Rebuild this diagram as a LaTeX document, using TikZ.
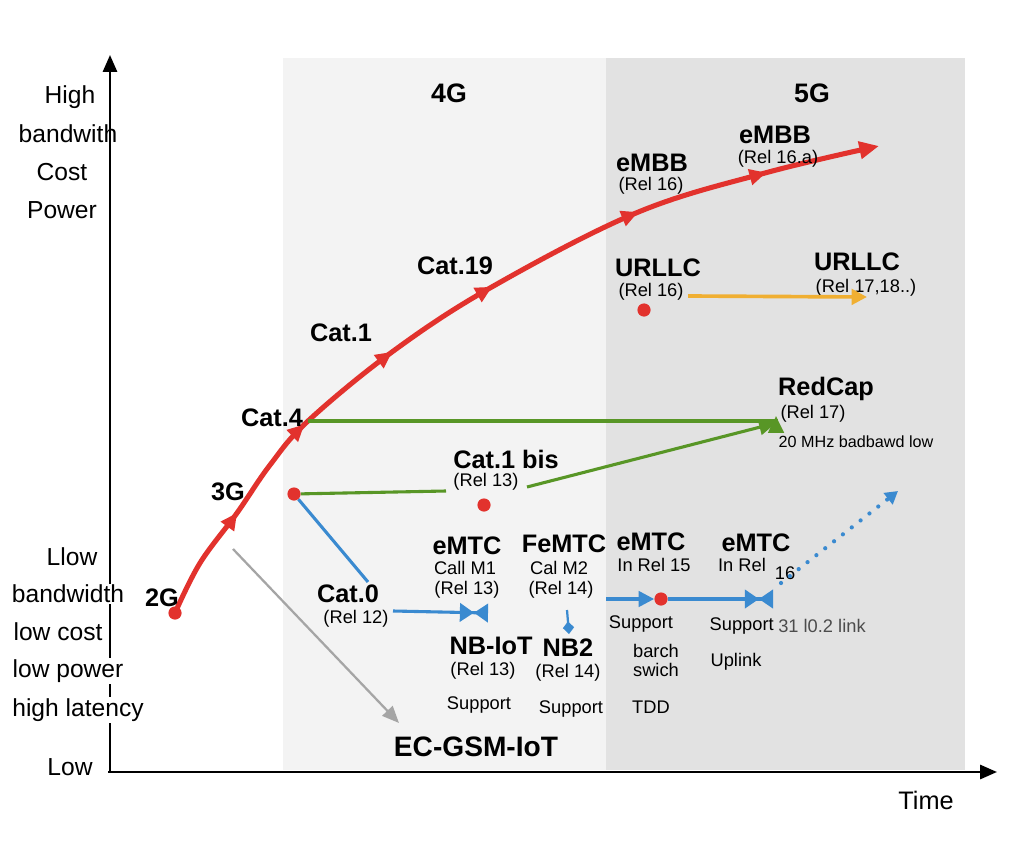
\documentclass[tikz,border=0pt]{standalone}
\usepackage{fontspec}
\setmainfont{Liberation Sans}
\usetikzlibrary{arrows.meta,decorations.markings}
\definecolor{redc}{RGB}{226,50,45}
\definecolor{greenc}{RGB}{88,150,38}
\definecolor{bluec}{RGB}{58,138,208}
\definecolor{orangec}{RGB}{240,175,50}
\definecolor{grayc}{RGB}{165,165,165}
\definecolor{panelA}{RGB}{243,243,243}
\definecolor{panelB}{RGB}{226,226,226}
\begin{document}
\begin{tikzpicture}[x=0.025cm,y=-0.025cm,
  big/.style={font=\fontsize{18}{20}\selectfont\bfseries, inner sep=0},
  rel/.style={font=\fontsize{13}{15}\selectfont, inner sep=0},
  small/.style={font=\fontsize{11.5}{13}\selectfont, inner sep=0},
  axl/.style={font=\fontsize{17.5}{19}\selectfont, inner sep=1pt},
  axlw/.style={axl, fill=white},
  dot/.style={circle, fill=redc, inner sep=0, minimum size=0.33cm},
  axisline/.style={line width=1.8pt, black},
  redline/.style={line width=3.6pt, redc},
  greenline/.style={line width=2.2pt, greenc},
  blueline/.style={line width=2.2pt, bluec},
  bowtie/.style={-{Triangle[length=10pt,width=13pt]Triangle[reversed,length=10pt,width=13pt]}}
]
\useasboundingbox (0,0) rectangle (1024,860);
\fill[white] (0,0) rectangle (1024,860);
% panels
\fill[panelA] (283,58) rectangle (606,770);
\fill[panelB] (606,58) rectangle (965,770);
\node[big, font=\fontsize{19}{21}\selectfont\bfseries] (g4) at (449,93) {4G};
\node[big, font=\fontsize{19}{21}\selectfont\bfseries] (g5) at (812,93) {5G};
% axes
\coordinate (o) at (110,772);
\coordinate (ytop) at (110,55);
\coordinate (xend) at (997,772);
\draw[axisline, -{Triangle[length=12pt,width=10pt]}] (o) -- (ytop);
\draw[axisline, -{Triangle[length=12pt,width=10pt]}] (108,772) -- (xend);
\node[axl, font=\fontsize{18}{20}\selectfont] (time) at (926,800) {Time};
% left labels
\node[axl] (hi) at (70,97) {High};
\node[axl] (hbw) at (68,134) {bandwith};
\node[axl] (hcost) at (62,172) {Cost};
\node[axl] (hpow) at (62,210) {Power};
\node[axlw] (llow) at (72,557) {Llow};
\node[axlw] (lbw) at (68,594) {bandwidth};
\node[axlw] (lcost) at (58,632) {low cost};
\node[axlw] (lpow) at (68,671) {low power};
\node[axlw] (llat) at (78,710) {high latency};
\node[axlw] (lowl) at (70,767) {Low};
% red curve
\node[dot] (d2g) at (175,613) {};
\coordinate (c4pt) at (308,421);
\coordinate (rend) at (879,146);
\draw[redline, line cap=round,
  decoration={markings,
    mark=at position 0.135 with {\arrow{Triangle[length=12pt,width=11pt]}},
    mark=at position 0.262 with {\arrow{Triangle[length=12pt,width=11pt]}},
    mark=at position 0.392 with {\arrow{Triangle[length=12pt,width=11pt]}},
    mark=at position 0.528 with {\arrow{Triangle[length=12pt,width=11pt]}},
    mark=at position 0.715 with {\arrow{Triangle[length=12pt,width=11pt]}},
    mark=at position 0.868 with {\arrow{Triangle[length=12pt,width=11pt]}}},
  postaction={decorate}, -{Triangle[length=14pt,width=12pt]}]
  plot[smooth, tension=0.6] coordinates {(d2g.center) (200,563) (237,513) (270,465) (c4pt) (392,352) (490,288) (636,213) (765,173) (rend)};
\node[big] (l2g) at (162,598) {2G};
\node[big] (l3g) at (228,492) {3G};
\node[big] (lc4) at (272,418) {Cat.4};
\node[big] (lc1) at (341,333) {Cat.1};
\node[big] (lc19) at (455,266) {Cat.19};
\node[big] (embb1) at (652,163) {eMBB};
\node[rel] (embb1r) at (651,186) {(Rel 16)};
\node[big] (embb2) at (775,135) {eMBB};
\node[rel] (embb2r) at (778,159) {(Rel 16.a)};
% URLLC
\node[big] (ur1) at (658,268) {URLLC};
\node[rel] (ur1r) at (651,292) {(Rel 16)};
\node[dot] (dur) at (644,310) {};
\node[big] (ur2) at (857,262) {URLLC};
\node[rel] (ur2r) at (866,288) {(Rel 17,18..)};
\coordinate (ora) at (688,296);
\coordinate (orb) at (867,297);
\draw[line width=2.6pt, orangec, -{Triangle[length=11pt,width=11pt]}] (ora) -- (orb);
% RedCap
\node[big] (rc) at (826,389) {RedCap};
\node[rel] (rcr) at (813,414) {(Rel 17)};
\node[small] (rcs) at (856,442) {20 MHz badbawd low};
\coordinate (rca) at (776,416);
\coordinate (rcb) at (776,423);
\draw[greenline, -{Triangle[length=12pt,width=11pt]}] (c4pt) -- (c4pt -| rca) -- (rca);
% Cat.1bis
\node[dot] (d1) at (294,494) {};
\node[big] (c1b) at (506,459) {Cat.1 bis};
\node[rel] (c1br) at (486,482) {(Rel 13)};
\node[dot] (d1b) at (484,505) {};
\coordinate (g2a) at (446,491);
\coordinate (g2b) at (527,487);
\draw[greenline] (d1) -- (g2a);
\draw[greenline, -{Triangle[length=12pt,width=11pt]}] (g2b) -- (rcb);
% Cat.0 and blue
\node[big] (c0) at (348,594) {Cat.0};
\node[rel] (c0r) at (356,619) {(Rel 12)};
\coordinate (b0) at (368,582);
\draw[blueline] (d1) -- (b0);
\coordinate (b1a) at (393,611);
\coordinate (b1b) at (488,613);
\draw[blueline, bowtie] (b1a) -- (b1b);
% eMTC group
\node[big] (em1) at (467,546) {eMTC};
\node[rel] (em1a) at (465,568) {Call M1};
\node[rel] (em1b) at (467,590) {(Rel 13)};
\node[big] (fem) at (564,544) {FeMTC};
\node[rel] (fema) at (559,568) {Cal M2};
\node[rel] (femb) at (561,590) {(Rel 14)};
\coordinate (nba) at (567,610);
\coordinate (nbb) at (569,634);
\draw[line width=1.6pt, bluec, -{Diamond[length=9pt,width=8pt]}] (nba) -- (nbb);
\node[big] (nbiot) at (491,646) {NB-IoT};
\node[rel] (nbiotr) at (483,671) {(Rel 13)};
\node[big] (nb2) at (568,648) {NB2};
\node[rel] (nb2r) at (568,673) {(Rel 14)};
\node[rel] (sup1) at (479,705) {Support};
\node[rel] (sup2) at (571,709) {Support};
% 5G eMTC
\node[big] (em15) at (651,542) {eMTC};
\node[rel] (em15r) at (654,565) {In Rel 15};
\node[big] (em16) at (756,543) {eMTC};
\node[rel] (em16r) at (742,565) {In Rel};
\node[rel] (em16n) at (785,573) {16};
\node[dot] (d15) at (661,599) {};
\coordinate (b2a) at (606,599);
\draw[blueline, -{Triangle[length=11pt,width=11pt]}] (b2a) -- (d15.west);
\coordinate (b3b) at (773,599);
\draw[blueline, bowtie] (d15.east) -- (b3b);
\coordinate (dta) at (781,583);
\coordinate (dtb) at (898,491);
\draw[bluec, line width=3pt, line cap=round, dash pattern=on 0pt off 8pt, -{Triangle[length=9pt,width=10pt,line cap=butt]}] (dta) -- (dtb);
\node[rel] (s15) at (641,624) {Support};
\node[rel] (bar) at (656,651) {barch};
\node[rel] (swi) at (656,670) {swich};
\node[rel] (tdd) at (651,707) {TDD};
\node[rel, anchor=east] (s16) at (774,626) {Support};
\node[rel, anchor=west, text=black!70] (lnk) at (778,626) {31 l0.2 link};
\node[rel] (upl) at (736,662) {Uplink};
% EC-GSM-IoT
\node[big, font=\fontsize{20}{22}\selectfont\bfseries] (ecgsm) at (476,747) {EC-GSM-IoT};
\coordinate (gra) at (233,549);
\coordinate (grb) at (399,723);
\draw[line width=1.6pt, grayc, -{Triangle[length=12pt,width=10pt]}] (gra) -- (grb);
\end{tikzpicture}
\end{document}
